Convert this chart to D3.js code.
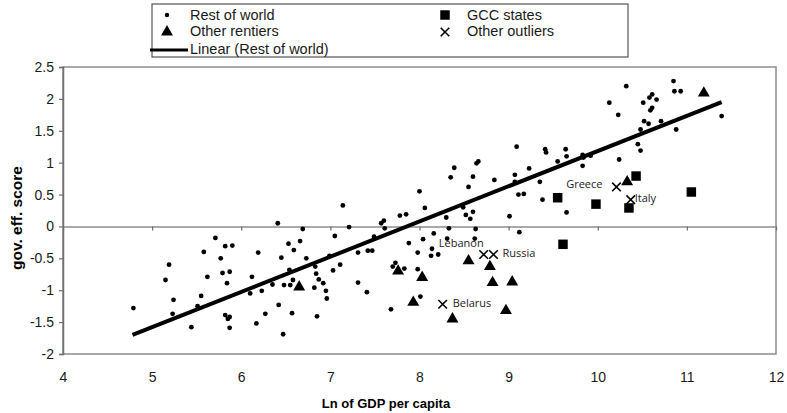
<!DOCTYPE html>
<html>
<head>
<meta charset="utf-8">
<script src="https://cdn.jsdelivr.net/npm/d3@7"></script>
<style>
  body { margin: 0; background: #fff; }
  svg { display: block; }
  .tick text { font-family: "Liberation Sans", Arial, sans-serif; font-size: 14px; fill: #1a1a1a; }
</style>
</head>
<body>
<div id="chart"></div>
<script>
// rest of world: [ln gdp per capita, gov. eff. score]
const restX = [4.79,5.19,5.15,5.24,5.23,5.44,5.55,5.51,5.58,5.62,5.71,5.77,5.82,5.90,5.79,5.87,5.84,5.82,5.87,5.85,5.87,
  6.19,6.12,6.10,6.17,6.23,6.27,6.35,6.41,6.42,6.47,6.45,6.53,6.59,6.66,6.69,6.54,6.48,6.55,6.58,6.57,6.73,6.82,6.83,6.84,6.87,6.92,6.95,6.96,6.85,
  7.05,7.03,7.11,6.99,7.21,7.14,7.31,7.42,7.47,7.49,7.31,7.41,7.57,7.60,7.61,7.78,7.85,7.88,8.00,7.98,7.98,7.73,7.70,7.83,7.68,
  8.01,8.06,8.04,8.14,8.13,8.21,8.16,8.30,8.33,8.35,8.39,8.31,8.55,8.49,8.60,8.52,8.57,8.64,8.66,8.60,8.63,8.62,8.84,
  9.07,9.07,9.01,9.12,9.11,9.17,9.23,9.35,9.38,9.42,9.41,9.65,9.55,9.09,9.64,9.65,9.83,9.84,9.92,9.83,
  10.13,10.23,10.24,10.32,10.45,10.48,10.48,10.52,10.57,10.51,10.58,10.61,10.66,10.61,10.59,10.71,10.85,10.86,10.93,10.88,11.39];
const restY = [-1.28,-0.60,-0.84,-1.15,-1.37,-1.58,-1.09,-1.25,-0.40,-0.79,-0.18,-0.50,-0.31,-0.30,-0.73,-0.71,-0.89,-1.39,-1.42,-1.45,-1.59,
  -0.41,-0.79,-1.05,-1.52,-1.01,-1.37,-0.91,0.05,-1.23,-1.69,-0.49,-0.27,-0.37,-0.23,-0.04,-0.68,-0.92,-0.92,-0.84,-1.36,-0.50,-0.96,-0.63,-0.74,-0.83,-0.89,-1.01,-1.13,-1.41,
  -0.15,-0.69,-0.60,-0.46,-0.01,0.33,-0.41,-0.38,-0.38,-0.16,-0.88,-1.03,0.05,0.09,-0.03,0.17,0.19,-0.26,0.55,-0.41,-0.67,-0.57,-0.63,-0.66,-1.30,
  -1.10,0.29,-0.20,-0.35,-0.46,-0.44,-0.11,0.14,-0.03,0.77,0.92,-0.19,0.62,0.30,0.23,0.18,0.12,0.99,1.02,0.78,-0.04,-0.19,0.73,
  0.81,0.70,0.16,-0.09,0.50,0.51,0.91,0.70,0.42,1.16,1.21,0.22,1.02,1.25,1.21,1.10,1.12,1.08,1.11,0.95,
  1.94,1.75,1.05,2.20,1.29,1.19,1.52,1.65,1.61,1.94,2.02,2.07,1.99,1.86,1.82,1.65,2.28,2.12,2.12,1.52,1.73];

const rentierX = [6.65,7.76,8.03,7.93,8.37,8.55,8.79,8.82,9.04,8.97,10.33,11.19];
const rentierY = [-0.95,-0.70,-0.80,-1.19,-1.45,-0.54,-0.63,-0.88,-0.87,-1.32,0.70,2.09];

const gccX = [9.55,9.61,9.98,10.35,10.43,11.05];
const gccY = [0.45,-0.28,0.35,0.29,0.79,0.54];

const outlierNames = ["Greece","Italy","Lebanon","Russia","Belarus"];
const outlierX = [10.21,10.37,8.72,8.83,8.26];
const outlierY = [0.62,0.42,-0.44,-0.44,-1.22];

// linear trend of rest of world, end points as read
const trendX = [4.78, 11.39];
const trendY = [-1.70, 1.95];

const xTicks = [4,5,6,7,8,9,10,11,12];
const yTicks = [2.5,2,1.5,1,0.5,0,-0.5,-1,-1.5,-2];
const yTickLabels = ["2.5","2","1.5","1","0.5","0","-0.5","-1","-1.5","-2"];

const legendItems = ["Rest of world","Other rentiers","Linear (Rest of world)","GCC states","Other outliers"];

const width = 787, height = 413;
const margin = {top: 67, left: 63, bottom: 59, right: 11};
const font = '"Liberation Sans", Arial, sans-serif';

const svg = d3.select("#chart").append("svg")
  .attr("width", width)
  .attr("height", height);

const x = d3.scaleLinear().domain([4, 12]).range([margin.left, width - margin.right]);
const y = d3.scaleLinear().domain([-2, 2.5]).range([height - margin.bottom, margin.top]);

// plot frame
svg.append("rect")
  .attr("x", x(4)).attr("y", y(2.5))
  .attr("width", x(12) - x(4)).attr("height", y(-2) - y(2.5))
  .attr("fill", "none").attr("stroke", "#8c8c8c").attr("stroke-width", 1.5);

// y axis
const yAxis = svg.append("g")
  .attr("transform", `translate(${x(4)},0)`)
  .call(d3.axisLeft(y).tickValues(yTicks).tickSize(4).tickPadding(5)
    .tickFormat((d, i) => yTickLabels[i]));
yAxis.select(".domain").attr("stroke", "#6e6e6e").attr("stroke-width", 1.5);
yAxis.selectAll(".tick line").attr("stroke", "#6e6e6e").attr("stroke-width", 1.2);

// x axis crossing at zero, labels along the bottom
const xAxis = svg.append("g")
  .attr("transform", `translate(0,${y(0)})`)
  .call(d3.axisBottom(x).tickValues(xTicks).tickSize(4).tickSizeOuter(0).tickFormat(""));
xAxis.select(".domain").attr("stroke", "#8c8c8c").attr("stroke-width", 1.5);
xAxis.selectAll(".tick line").attr("stroke", "#6e6e6e").attr("stroke-width", 1.2);

const xLabels = svg.append("g")
  .attr("transform", `translate(0,${y(-2)})`)
  .call(d3.axisBottom(x).tickValues(xTicks).tickSize(0).tickPadding(18).tickFormat(d => d));
xLabels.select(".domain").remove();

// axis titles
svg.append("text")
  .attr("x", 386).attr("y", 408)
  .attr("text-anchor", "middle")
  .style("font-family", font).style("font-size", "13px").style("font-weight", "bold")
  .text("Ln of GDP per capita");

svg.append("text")
  .attr("transform", "translate(22,218) rotate(-90)")
  .attr("text-anchor", "middle")
  .style("font-family", font).style("font-size", "15.5px").style("font-weight", "bold")
  .text("gov. eff. score");

// markers
const tri = d3.symbol().type(d3.symbolTriangle).size(62);
const sq = d3.symbol().type(d3.symbolSquare).size(90);
const cross = d3.symbol().type(d3.symbolX).size(50);

const plot = svg.append("g");

plot.selectAll("circle.row").data(restX).enter().append("circle")
  .attr("class", "row")
  .attr("cx", d => x(d))
  .attr("cy", (d, i) => y(restY[i]))
  .attr("r", 2.4)
  .attr("fill", "#000");

plot.selectAll("path.rent").data(rentierX).enter().append("path")
  .attr("class", "rent")
  .attr("d", tri)
  .attr("transform", (d, i) => `translate(${x(d)},${y(rentierY[i])})`)
  .attr("fill", "#000");

plot.selectAll("path.gcc").data(gccX).enter().append("path")
  .attr("class", "gcc")
  .attr("d", sq)
  .attr("transform", (d, i) => `translate(${x(d)},${y(gccY[i])})`)
  .attr("fill", "#000");

plot.selectAll("path.out").data(outlierX).enter().append("path")
  .attr("class", "out")
  .attr("d", cross)
  .attr("transform", (d, i) => `translate(${x(d)},${y(outlierY[i])})`)
  .attr("fill", "none").attr("stroke", "#000").attr("stroke-width", 1.6);

// trend line
plot.append("path")
  .datum(trendX.map((d, i) => [d, trendY[i]]))
  .attr("d", d3.line().x(d => x(d[0])).y(d => y(d[1])))
  .attr("stroke", "#000").attr("stroke-width", 4).attr("fill", "none");

// outlier names
const nameOffset = [[-14, -3, "end"], [4, -2, "start"], [0, -11, "end"], [9, -1, "start"], [10, -1, "start"]];
plot.selectAll("text.name").data(outlierNames).enter().append("text")
  .attr("class", "name")
  .attr("x", (d, i) => x(outlierX[i]) + nameOffset[i][0])
  .attr("y", (d, i) => y(outlierY[i]) + nameOffset[i][1])
  .attr("dy", "0.35em")
  .attr("text-anchor", (d, i) => nameOffset[i][2])
  .style("font-family", '"Open Sans", "Noto Sans", sans-serif').style("font-size", "11px")
  .style("fill", "#222")
  .text(d => d);

// legend
const lg = svg.append("g").attr("transform", "translate(152,4)");
lg.append("rect").attr("width", 476).attr("height", 53)
  .attr("fill", "#fff").attr("stroke", "#333").attr("stroke-width", 1);

const lgText = (t, tx, ty) => lg.append("text").attr("x", tx).attr("y", ty)
  .style("font-family", font).style("font-size", "14.5px").style("fill", "#1a1a1a").text(t);

lg.append("circle").attr("cx", 15).attr("cy", 11).attr("r", 2.2).attr("fill", "#000");
lgText(legendItems[0], 38, 16);
lg.append("path").attr("d", tri).attr("transform", "translate(15,28)").attr("fill", "#000");
lgText(legendItems[1], 38, 32);
lg.append("line").attr("x1", -2).attr("x2", 36).attr("y1", 46).attr("y2", 46)
  .attr("stroke", "#000").attr("stroke-width", 3);
lgText(legendItems[2], 38, 50);
lg.append("path").attr("d", sq).attr("transform", "translate(293,11)").attr("fill", "#000");
lgText(legendItems[3], 315, 16);
lg.append("path").attr("d", cross).attr("transform", "translate(293,28)")
  .attr("fill", "none").attr("stroke", "#000").attr("stroke-width", 1.6);
lgText(legendItems[4], 315, 32);
</script>
</body>
</html>
